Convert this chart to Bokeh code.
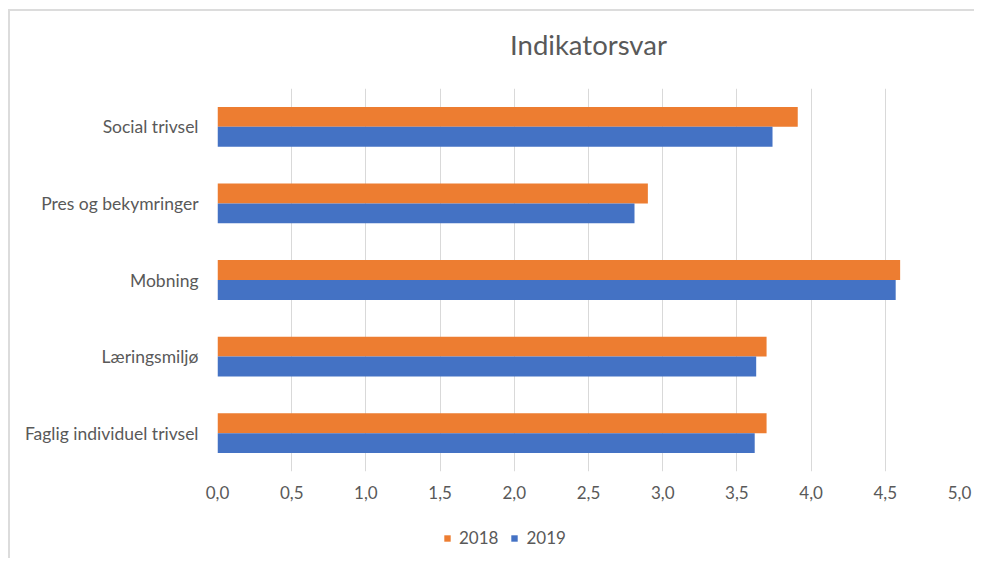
from bokeh.plotting import figure
from bokeh.models import FactorRange, Range1d, FixedTicker, Legend, LegendItem, Title, ColumnDataSource
from bokeh.layouts import column
from bokeh.transform import dodge
from bokeh.embed import file_html
from bokeh.resources import INLINE

categories = ["Social trivsel", "Pres og bekymringer", "Mobning", "Læringsmiljø", "Faglig individuel trivsel"]
values_2018 = [3.91, 2.90, 4.60, 3.70, 3.70]
values_2019 = [3.74, 2.81, 4.57, 3.63, 3.62]
series_names = ["2018", "2019"]
tick_values = [0.0, 0.5, 1.0, 1.5, 2.0, 2.5, 3.0, 3.5, 4.0, 4.5, 5.0]
tick_labels = ["0,0", "0,5", "1,0", "1,5", "2,0", "2,5", "3,0", "3,5", "4,0", "4,5", "5,0"]

FONT = "Lato"
TXT = "#595959"
C2018 = "#ED7D31"
C2019 = "#4472C4"
EDGE = "2px solid #dcdcdc"

src = ColumnDataSource(dict(cat=categories, v2018=values_2018, v2019=values_2019))

p = figure(width=966, height=495, output_backend="svg", toolbar_location=None,
           y_range=FactorRange(*reversed(categories), range_padding=0),
           x_range=Range1d(0, 5.0),
           min_border_left=207, min_border_right=17, min_border_top=77, min_border_bottom=35)
p.outline_line_color = None
p.styles = {"border-left": EDGE, "border-top": EDGE}

# spacer title (nearest the frame), then the real title above it
p.add_layout(Title(text=" ", text_font_size="1px", standoff=25), "above")
p.add_layout(Title(text="Indikatorsvar", align="center", text_font=FONT, text_font_size="27.5px",
                   text_font_style="normal", text_color=TXT, standoff=0,
                   vertical_align="bottom"), "above")

r1 = p.hbar(y=dodge("cat", 0.13, range=p.y_range), right="v2018", height=0.26, left=0,
            source=src, color=C2018, line_color=None)
r2 = p.hbar(y=dodge("cat", -0.13, range=p.y_range), right="v2019", height=0.26, left=0,
            source=src, color=C2019, line_color=None)

p.xaxis.ticker = FixedTicker(ticks=tick_values)
p.xaxis.major_label_overrides = {t: l for t, l in zip(tick_values, tick_labels)}
p.xaxis.axis_line_color = None
p.xaxis.major_tick_line_color = None
p.xaxis.major_tick_out = 0
p.xaxis.major_tick_in = 0
p.xaxis.minor_tick_line_color = None
p.xaxis.major_label_standoff = 14
p.xaxis.major_label_text_font = FONT
p.xaxis.major_label_text_font_size = "17px"
p.xaxis.major_label_text_color = TXT

p.yaxis.axis_line_color = None
p.yaxis.major_tick_line_color = None
p.yaxis.major_tick_out = 0
p.yaxis.major_tick_in = 0
p.yaxis.minor_tick_line_color = None
p.yaxis.major_label_standoff = 19
p.yaxis.major_label_text_font = FONT
p.yaxis.major_label_text_font_size = "17.5px"
p.yaxis.major_label_text_color = TXT

p.ygrid.grid_line_color = None
p.xgrid.ticker = FixedTicker(ticks=tick_values)
p.xgrid.grid_line_color = "#d9d9d9"
p.xgrid.grid_line_width = 1

# legend strip below the chart (zero-height bars: they only serve the legend)
p2 = figure(width=966, height=54, output_backend="svg", toolbar_location=None,
            x_range=Range1d(100, 101), y_range=FactorRange(*categories),
            x_axis_type=None, y_axis_type=None,
            min_border_left=0, min_border_right=0, min_border_top=0, min_border_bottom=0)
p2.outline_line_color = None
p2.grid.grid_line_color = None
p2.styles = {"border-left": EDGE}
l1 = p2.hbar(y="cat", right="v2018", left=0, height=0, source=src, color=C2018, line_color=None)
l2 = p2.hbar(y="cat", right="v2019", left=0, height=0, source=src, color=C2019, line_color=None)

legend = Legend(items=[LegendItem(label=series_names[0], renderers=[l1]),
                       LegendItem(label=series_names[1], renderers=[l2])],
                orientation="horizontal", location=(226, 10))
legend.glyph_width = 8
legend.glyph_height = 8
legend.label_text_font = FONT
legend.label_text_font_size = "17px"
legend.label_text_color = TXT
legend.label_standoff = 8
legend.spacing = 12
legend.border_line_color = None
legend.background_fill_alpha = 0
legend.margin = 0
legend.padding = 4
p2.add_layout(legend, "center")

layout = column(p, p2, spacing=0, styles={"margin-left": "8px", "margin-top": "9px"})

open("out.html", "w").write(file_html(layout, INLINE))
